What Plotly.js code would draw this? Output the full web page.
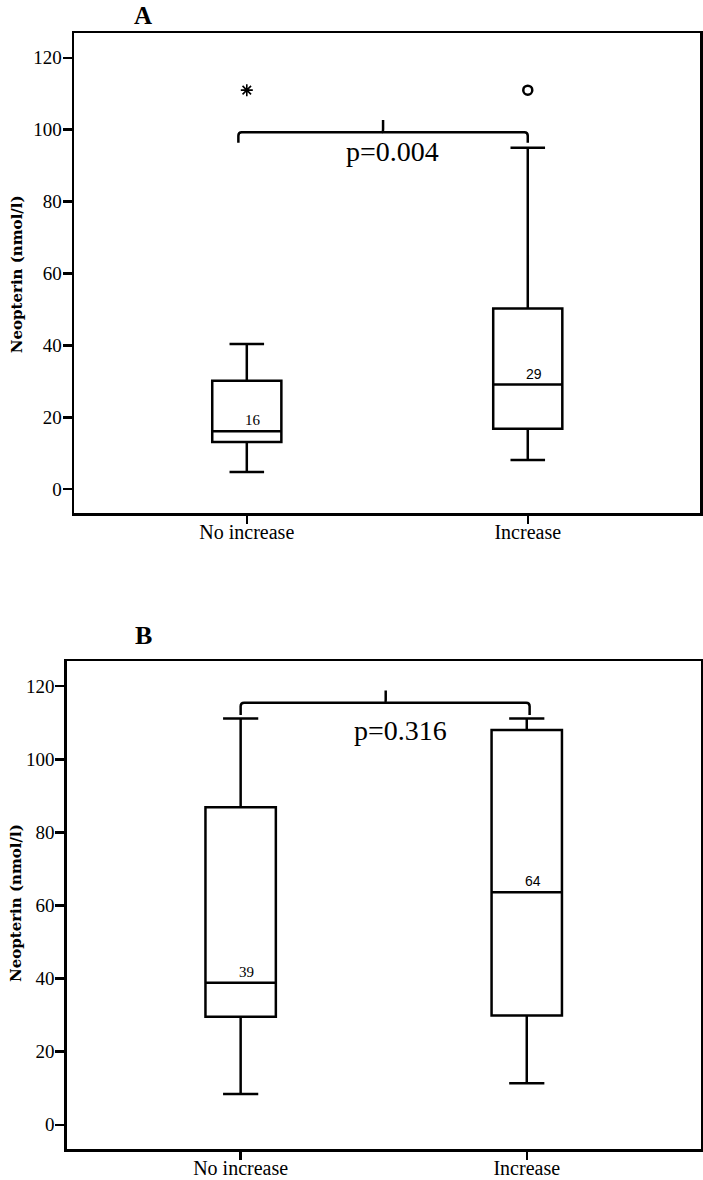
<!DOCTYPE html>
<html><head><meta charset="utf-8">
<script src="https://cdn.plot.ly/plotly-3.0.1.min.js"></script>
<style>html,body{margin:0;padding:0;background:#fff}</style>
</head><body><div id="chart" style="width:703px;height:1180px"></div>
<script>
// ---------- data ----------
const categories = ["No increase", "Increase"];
const positions = [0, 1];
const yTicks = [0, 20, 40, 60, 80, 100, 120];

// Panel A
const aLower = [4.8, 8.1];
const aQ1 = [13.1, 16.8];
const aMedian = [16.1, 29.1];
const aQ3 = [30.2, 50.3];
const aUpper = [40.4, 95.0];
const aOutlierX = [0, 1];
const aOutlierY = [111, 111];
const aMedianLabels = ["16", "29"];

// Panel B
const bLower = [8.4, 11.4];
const bQ1 = [29.6, 29.9];
const bMedian = [38.9, 63.6];
const bQ3 = [86.9, 108.0];
const bUpper = [111.2, 111.2];
const bMedianLabels = ["39", "64"];

// significance brackets [A, B]
const pTexts = ["p=0.004", "p=0.316"];
const bracketLeft = [-0.03, 0.0];
const bracketRight = [1.0, 1.01];
const bracketMid = [0.485, 0.507];
const bracketY = [99.3, 115.5];
const bracketHookY = [96.4, 112.1];
const bracketTipY = [102.7, 118.8];
const pTextX = [0.52, 0.557];
const pTextY = [93.9, 108.0];
const panelTitles = ["A", "B"];

// ---------- layout helpers ----------
const W = 703, H = 1180;
const px = v => v / W;
const py = v => 1 - v / H;
const serif = "Liberation Serif, Times New Roman, serif";
const black = "#000";

function boxTrace(q1, med, q3, lo, hi, xa, ya) {
  return {
    type: "box", x: positions, q1: q1, median: med, q3: q3,
    lowerfence: lo, upperfence: hi, width: 0.246, whiskerwidth: 0.5,
    boxpoints: false, fillcolor: "#fff",
    line: {color: black, width: 2.5},
    xaxis: xa, yaxis: ya, showlegend: false, hoverinfo: "skip"
  };
}

const traces = [
  boxTrace(aQ1, aMedian, aQ3, aLower, aUpper, "x", "y"),
  boxTrace(bQ1, bMedian, bQ3, bLower, bUpper, "x2", "y2"),
  {type: "scatter", mode: "markers", x: [aOutlierX[0]], y: [aOutlierY[0]],
   marker: {symbol: "asterisk-open", size: 10, color: black, line: {color: black, width: 1.6}},
   xaxis: "x", yaxis: "y", showlegend: false, hoverinfo: "skip"},
  {type: "scatter", mode: "markers", x: [aOutlierX[1]], y: [aOutlierY[1]],
   marker: {symbol: "circle-open", size: 9, color: black, line: {color: black, width: 2.5}},
   xaxis: "x", yaxis: "y", showlegend: false, hoverinfo: "skip"}
];

function xAxis(domain, range, anchor) {
  return {
    domain: domain, range: range, anchor: anchor,
    tickvals: positions, ticktext: categories,
    ticks: "outside", ticklen: 8, tickwidth: 2.5, tickcolor: black,
    ticklabelstandoff: -9,
    showline: true, linewidth: 2.5, linecolor: black, mirror: true,
    showgrid: false, zeroline: false, fixedrange: true,
    tickfont: {family: serif, size: 20, color: black}
  };
}
function yAxis(domain, anchor) {
  return {
    domain: domain, range: [-6.7, 126.9], anchor: anchor,
    tickvals: yTicks, ticks: "outside", ticklen: 9, tickwidth: 2.5, tickcolor: black,
    ticklabelstandoff: -3,
    showline: true, linewidth: 2.5, linecolor: black, mirror: true,
    showgrid: false, zeroline: false, fixedrange: true,
    tickfont: {family: serif, size: 19, color: black}
  };
}

const shapes = [];
const annotations = [];
const axRefs = [["x", "y"], ["x2", "y2"]];
for (let i = 0; i < 2; i++) {
  const [xr, yr] = axRefs[i];
  const L = bracketLeft[i], R = bracketRight[i], M = bracketMid[i];
  const y = bracketY[i], hook = bracketHookY[i], tip = bracketTipY[i];
  const rx = 0.012, ry = 1.0;
  shapes.push({
    type: "path", xref: xr, yref: yr, layer: "above",
    path: `M ${L},${hook} L ${L},${y - ry} Q ${L},${y} ${L + rx},${y} L ${R - rx},${y} Q ${R},${y} ${R},${y - ry} L ${R},${hook}`,
    line: {color: black, width: 2.5}
  });
  shapes.push({
    type: "path", xref: xr, yref: yr, layer: "above",
    path: `M ${M - 0.004},${y} Q ${M},${y} ${M},${y + 0.8} L ${M},${tip}`,
    line: {color: black, width: 2.5}
  });
  annotations.push({
    xref: xr, yref: yr, x: pTextX[i], y: pTextY[i], text: pTexts[i],
    showarrow: false, xanchor: "center", yanchor: "middle",
    font: {family: serif, size: 28, color: black}
  });
}

// median labels
const medLabelSets = [[aMedian, aMedianLabels], [bMedian, bMedianLabels]];
const medFonts = [["Liberation Serif, serif", "Liberation Sans, Arial, sans-serif"], ["Liberation Serif, serif", "Liberation Sans, Arial, sans-serif"]];
for (let i = 0; i < 2; i++) {
  const [xr, yr] = axRefs[i];
  const [meds, labels] = medLabelSets[i];
  for (let j = 0; j < 2; j++) {
    annotations.push({
      xref: xr, yref: yr, x: positions[j], y: meds[j], text: labels[j],
      showarrow: false, xanchor: "center", yanchor: "bottom", xshift: 6, yshift: 1,
      font: {family: medFonts[i][j], size: j === 0 ? 15 : 14, color: black}
    });
  }
}

// panel titles
annotations.push({xref: "paper", yref: "paper", x: px(143), y: py(0), text: "<b>" + panelTitles[0] + "</b>",
  showarrow: false, xanchor: "center", yanchor: "top", font: {family: serif, size: 25, color: black}});
annotations.push({xref: "paper", yref: "paper", x: px(143), y: py(635), text: "<b>" + panelTitles[1] + "</b>",
  showarrow: false, xanchor: "center", yanchor: "middle", font: {family: serif, size: 26, color: black}});

// y-axis titles
const yTitle = "<b>Neopterin (nmol/l)</b>";
annotations.push({xref: "paper", yref: "paper", x: px(16.5), y: py(274.7), text: yTitle, textangle: -90,
  showarrow: false, xanchor: "center", yanchor: "middle", font: {family: "DejaVu Serif, serif", size: 15, color: black}});
annotations.push({xref: "paper", yref: "paper", x: px(16), y: py(903), text: yTitle, textangle: -90,
  showarrow: false, xanchor: "center", yanchor: "middle", font: {family: "DejaVu Serif, serif", size: 15, color: black}});

const layout = {
  width: W, height: H, margin: {l: 0, r: 0, t: 0, b: 0},
  paper_bgcolor: "#fff", plot_bgcolor: "#fff", showlegend: false,
  xaxis: xAxis([px(74), px(700)], [-0.615, 1.613], "y"),
  yaxis: yAxis([py(513.3), py(33)], "x"),
  xaxis2: xAxis([px(66.7), px(701)], [-0.608, 1.609], "y2"),
  yaxis2: yAxis([py(1149.3), py(661)], "x2"),
  shapes: shapes, annotations: annotations
};

Plotly.newPlot("chart", traces, layout, {displayModeBar: false, staticPlot: true});
</script></body></html>
